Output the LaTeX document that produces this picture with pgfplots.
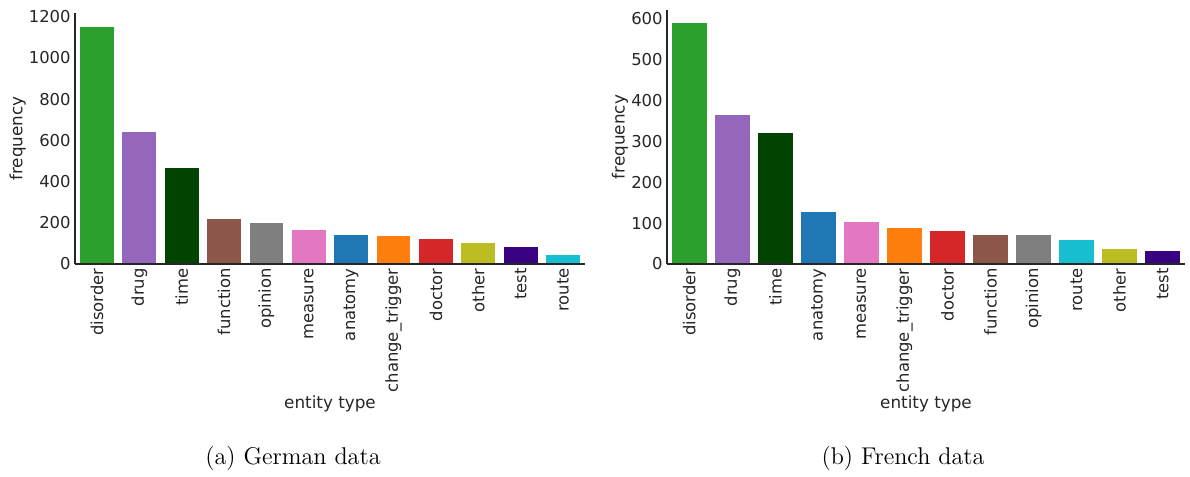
\documentclass[border=0pt]{standalone}
\usepackage{pgfplots}
\pgfplotsset{compat=1.18}
\usepackage{fontspec}
\newfontfamily\dejavu{DejaVu Sans}
\definecolor{cgreen}{HTML}{2CA02C}
\definecolor{cpurple}{HTML}{9467BD}
\definecolor{cdkgreen}{HTML}{014300}
\definecolor{cbrown}{HTML}{8C564B}
\definecolor{cgray}{HTML}{7F7F7F}
\definecolor{cpink}{HTML}{E377C2}
\definecolor{cblue}{HTML}{1F77B4}
\definecolor{corange}{HTML}{FF7F0E}
\definecolor{cred}{HTML}{D62728}
\definecolor{colive}{HTML}{BCBD22}
\definecolor{cindigo}{HTML}{380282}
\definecolor{ccyan}{HTML}{17BECF}
\definecolor{txt}{HTML}{262626}
\pgfplotsset{
  mystyle/.style={
    scale only axis, axis on top,
    ybar, bar width=0.8,
    xmin=-0.52, xmax=11.52, ymin=0,
    axis x line*=bottom, axis y line*=left,
    axis line style={-, draw=txt, line width=0.6pt},
    major tick length=0pt,
    xtick={0,...,11},
    tick label style={font=\dejavu\fontsize{8.2}{9}\selectfont, text=txt},
    x tick label style={rotate=90, anchor=east, inner sep=2pt},
    y tick label style={inner sep=2pt},
    /pgf/number format/assume math mode=true,
    /pgf/number format/1000 sep={},
    label style={font=\dejavu\fontsize{8.4}{9}\selectfont, text=txt},
    ylabel={frequency}, xlabel={entity type},
    xlabel style={yshift=4pt},
    ylabel style={yshift=-4pt},
    every axis plot/.append style={bar shift=0pt, draw=none},
    clip=false,
  }
}
\begin{document}
\begin{tikzpicture}
\path (0,0) rectangle (595pt,-237.5pt);
% German
\begin{axis}[mystyle, at={(37.5pt,-132pt)}, anchor=south west,
  width=255pt, height=125.5pt, ymax=1218, ytick={0,200,...,1200},
  xticklabels={disorder,drug,time,function,opinion,measure,anatomy,change\_trigger,doctor,other,test,route}]
\addplot[fill=cgreen] coordinates {(0,1151)};
\addplot[fill=cpurple] coordinates {(1,640)};
\addplot[fill=cdkgreen] coordinates {(2,465)};
\addplot[fill=cbrown] coordinates {(3,216)};
\addplot[fill=cgray] coordinates {(4,197)};
\addplot[fill=cpink] coordinates {(5,166)};
\addplot[fill=cblue] coordinates {(6,142)};
\addplot[fill=corange] coordinates {(7,136)};
\addplot[fill=cred] coordinates {(8,123)};
\addplot[fill=colive] coordinates {(9,102)};
\addplot[fill=cindigo] coordinates {(10,84)};
\addplot[fill=ccyan] coordinates {(11,42)};
\end{axis}
% French
\begin{axis}[mystyle, at={(333.5pt,-132pt)}, anchor=south west,
  width=259pt, height=127pt, ymax=620, ytick={0,100,...,600},
  xticklabels={disorder,drug,time,anatomy,measure,change\_trigger,doctor,function,opinion,route,other,test}]
\addplot[fill=cgreen] coordinates {(0,589)};
\addplot[fill=cpurple] coordinates {(1,364)};
\addplot[fill=cdkgreen] coordinates {(2,320)};
\addplot[fill=cblue] coordinates {(3,126)};
\addplot[fill=cpink] coordinates {(4,103)};
\addplot[fill=corange] coordinates {(5,88)};
\addplot[fill=cred] coordinates {(6,80)};
\addplot[fill=cbrown] coordinates {(7,72)};
\addplot[fill=cgray] coordinates {(8,72)};
\addplot[fill=ccyan] coordinates {(9,59)};
\addplot[fill=colive] coordinates {(10,36)};
\addplot[fill=cindigo] coordinates {(11,31)};
\end{axis}
\node[font=\fontsize{12.1}{14}\selectfont] at (146.5pt,-229pt) {(a) German data};
\node[font=\fontsize{12.1}{14}\selectfont] at (451.5pt,-229pt) {(b) French data};
\end{tikzpicture}
\end{document}
